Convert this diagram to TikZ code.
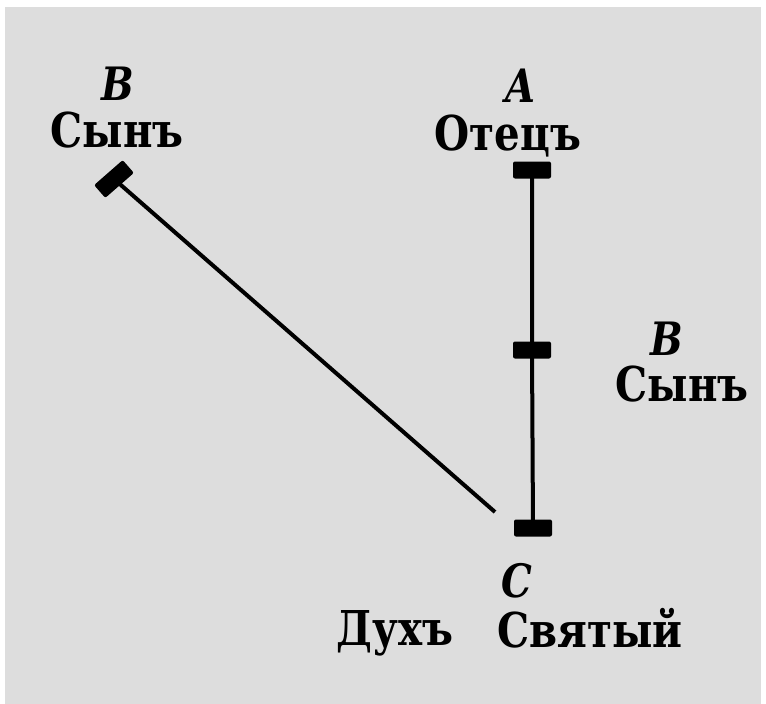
\documentclass[tikz,border=0pt]{standalone}
\usepackage{fontspec}
\setmainfont{DejaVu Serif}[FakeStretch=0.84]
\definecolor{bggray}{HTML}{DDDDDD}
\tikzset{
  lbl/.style={inner sep=0pt, anchor=base, font=\fontsize{48}{56}\selectfont\bfseries},
  ilbl/.style={lbl, font=\fontsize{46}{56}\selectfont\bfseries\itshape},
  bar/.style={rectangle, fill=black, minimum width=38pt, minimum height=17pt, inner sep=0pt, rounded corners=2pt},
  link/.style={line width=4pt}
}
\begin{document}
\begin{tikzpicture}[x=1pt,y=-1pt]
\useasboundingbox (0,0) rectangle (766,704);
\fill[white] (0,0) rectangle (766,704);
\fill[bggray] (5,7) rectangle (761,704);
% labels
\node[ilbl] (bl) at (118,100) {B};
\node[lbl] (sl) at (117,147) {Сынъ};
\node[ilbl] (al) at (520,102) {A};
\node[lbl] (ol) at (508,150) {Отецъ};
\node[ilbl] (br) at (667,355) {B};
\node[lbl] (sr) at (682,401) {Сынъ};
\node[ilbl] (cl) at (517,597) {C};
\node[lbl] (dl) at (395,645) {Духъ};
\node[lbl] (svl) at (590,647) {Святый};
% bars
\node[bar] (ta) at (532,170) {};
\node[bar] (tb) at (532,350) {};
\node[bar] (tc) at (533,528) {};
\node[bar, rotate=41.2] (td) at (114,179) {};
\coordinate (dend) at (495,512);
% connectors
\draw[link] (ta.center) -- (tb.center) -- (tc.center);
\draw[link] (td.center) -- (dend);
\end{tikzpicture}
\end{document}
